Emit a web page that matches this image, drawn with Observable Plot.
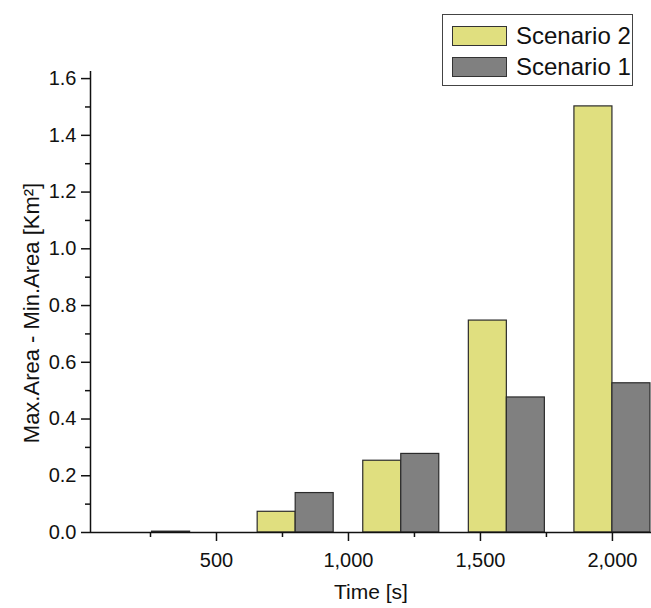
<!DOCTYPE html>
<html>
<head>
<meta charset="utf-8">
<script src="https://cdn.jsdelivr.net/npm/d3@7"></script>
<script src="https://cdn.jsdelivr.net/npm/@observablehq/plot@0.6"></script>
<style>
  html, body { margin: 0; padding: 0; background: #fff; overflow: hidden; }
  #wrap { position: relative; width: 651px; height: 608px; font-family: "Liberation Sans", Arial, sans-serif; }
  #legend { position: absolute; left: 442px; top: 14px; width: 191px; height: 72px;
            border: 1px solid #444; background: #fff; box-sizing: border-box; }
  .item { position: absolute; left: 9px; height: 21px; display: flex; align-items: center; }
  .sw { width: 55px; height: 20px; box-sizing: border-box; border: 1px solid #333; }
  .lab { margin-left: 9px; font-size: 24px; color: #111; line-height: 1; }
</style>
</head>
<body>
<div id="wrap"><div id="legend"></div></div>
<script>
// ---- data ----
const times = [400, 800, 1200, 1600, 2000];
const scenario2 = [0.003, 0.073, 0.253, 0.747, 1.502];
const scenario1 = [0, 0.139, 0.277, 0.476, 0.526];
const seriesNames = ["Scenario 2", "Scenario 1"];
const seriesColors = ["#e0df7f", "#808080"];
const xTicks = [500, 1000, 1500, 2000];
const xMinorTicks = [250, 750, 1250, 1750];
const yTicks = [0, 0.2, 0.4, 0.6, 0.8, 1.0, 1.2, 1.4, 1.6];
const yMinorTicks = [0.1, 0.3, 0.5, 0.7, 0.9, 1.1, 1.3, 1.5];
const xLabel = "Time [s]";
const yLabel = "Max.Area - Min.Area [Km²]";

// ---- build table ----
const barWidth = 144; // bar width in time units
const xDomain = [22.7, 2148];
const yDomain = [0, 1.625];
const rows = times.flatMap((t, i) => [
  {time: t, value: scenario2[i], series: seriesNames[0], side: -1},
  {time: t, value: scenario1[i], series: seriesNames[1], side: 1}
]);

const axisStyle = {stroke: "#111", strokeWidth: 1.5};
const fmtX = d3.format(",");
const fmtY = d3.format(".1f");

const chart = Plot.plot({
  width: 651,
  height: 608,
  marginLeft: 90,
  marginRight: 0,
  marginTop: 71,
  marginBottom: 76,
  style: {fontFamily: "'Liberation Sans', Arial, sans-serif", fontSize: "20px", color: "#111", background: "transparent"},
  x: {domain: xDomain, label: null},
  y: {domain: yDomain, label: null},
  color: {domain: seriesNames, range: seriesColors},
  marks: [
    Plot.rect(rows, {
      x1: d => d.side < 0 ? d.time - barWidth : d.time,
      x2: d => d.side < 0 ? d.time : d.time + barWidth,
      y1: () => 0,
      y2: "value",
      fill: "series",
      stroke: "#2b2b2b",
      strokeWidth: 1.2
    }),
    Plot.ruleY([0], {...axisStyle}),
    Plot.ruleX([xDomain[0]], {...axisStyle}),
    Plot.axisX({ticks: xTicks, tickFormat: fmtX, tickSize: 9, tickPadding: 11, label: null, ...axisStyle, fill: "#111"}),
    Plot.axisX({ticks: xMinorTicks, tickFormat: () => "", tickSize: 5, label: null, ...axisStyle}),
    Plot.axisY({ticks: yTicks, tickFormat: fmtY, tickSize: 9, tickPadding: 5, label: null, ...axisStyle, fill: "#111"}),
    Plot.axisY({ticks: yMinorTicks, tickFormat: () => "", tickSize: 5, label: null, ...axisStyle}),
    Plot.text([xLabel], {frameAnchor: "bottom", textAnchor: "middle", dy: 66, fontSize: 21, fill: "#111"}),
    Plot.text([yLabel], {frameAnchor: "left", textAnchor: "middle", rotate: -90, dx: -59, dy: 11, fontSize: 22, fill: "#111"})
  ]
});

const wrap = document.getElementById("wrap");
wrap.insertBefore(chart, wrap.firstChild);

// legend (drawn over the top-right corner, as in the reference)
const legend = d3.select("#legend");
seriesNames.forEach((name, i) => {
  const item = legend.append("div").attr("class", "item").style("top", (i === 0 ? 10 : 41) + "px");
  item.append("div").attr("class", "sw").style("background", seriesColors[i]);
  item.append("span").attr("class", "lab").text(name);
});
</script>
</body>
</html>
